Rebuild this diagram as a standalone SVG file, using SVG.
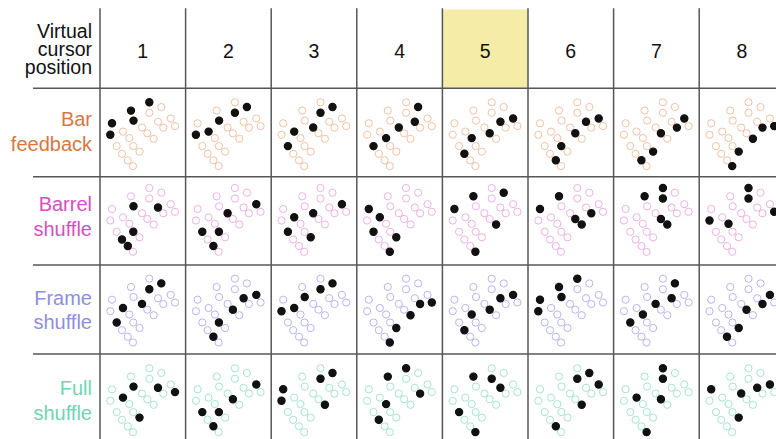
<svg xmlns="http://www.w3.org/2000/svg" width="776" height="439" viewBox="0 0 776 439">
<style>
text{font-family:"Liberation Sans",Arial,sans-serif;}
.hd{font-size:19.5px;fill:#111;text-anchor:end;}
.num{font-size:19.5px;fill:#111;text-anchor:middle;}
.lbl{font-size:20px;text-anchor:end;}
.grid line{stroke:#575757;stroke-width:1.5;}
.h{fill:none;stroke-width:1;}
.bar{stroke:#efc2a6;}
.barrel{stroke:#eab2e3;}
.frame{stroke:#b6b6ef;}
.full{stroke:#a6e4d0;}
.f{fill:#111;stroke:#111;stroke-width:1.2;}
</style>
<defs>
<circle id="p1" cx="49.3" cy="14" r="3.6"/>
<circle id="p2" cx="61.3" cy="18.7" r="3.6"/>
<circle id="p3" cx="31" cy="22.3" r="3.6"/>
<circle id="p4" cx="49.3" cy="24.5" r="3.6"/>
<circle id="p5" cx="33.5" cy="32.3" r="3.6"/>
<circle id="p6" cx="58" cy="33.5" r="3.6"/>
<circle id="p7" cx="70.7" cy="30.2" r="3.6"/>
<circle id="p8" cx="12" cy="35" r="3.6"/>
<circle id="p9" cx="42" cy="39.2" r="3.6"/>
<circle id="p10" cx="63.3" cy="39.3" r="3.6"/>
<circle id="p11" cx="75" cy="37.8" r="3.6"/>
<circle id="p12" cx="10.3" cy="46.5" r="3.6"/>
<circle id="p13" cx="23" cy="43.3" r="3.6"/>
<circle id="p14" cx="47.3" cy="45" r="3.6"/>
<circle id="p15" cx="53.7" cy="50.5" r="3.6"/>
<circle id="p16" cx="29.3" cy="49.8" r="3.6"/>
<circle id="p17" cx="16.7" cy="57.8" r="3.6"/>
<circle id="p18" cx="33.3" cy="57.8" r="3.6"/>
<circle id="p19" cx="39.5" cy="63.3" r="3.6"/>
<circle id="p20" cx="22" cy="65.5" r="3.6"/>
<circle id="p21" cx="27.8" cy="72" r="3.6"/>
<circle id="p22" cx="33" cy="77.8" r="3.6"/>
<g id="tpl">
<use href="#p1"/><use href="#p2"/><use href="#p3"/><use href="#p4"/><use href="#p5"/><use href="#p6"/><use href="#p7"/><use href="#p8"/><use href="#p9"/><use href="#p10"/><use href="#p11"/><use href="#p12"/><use href="#p13"/><use href="#p14"/><use href="#p15"/><use href="#p16"/><use href="#p17"/><use href="#p18"/><use href="#p19"/><use href="#p20"/><use href="#p21"/><use href="#p22"/>
</g>
</defs>
<rect width="776" height="439" fill="#ffffff"/>
<rect id="highlight" x="442.4" y="9.5" width="85.6" height="78.8" fill="#f4eca7"/>
<g id="header">
<text class="hd" x="92" y="37.5">Virtual</text>
<text class="hd" x="92" y="55.5">cursor</text>
<text class="hd" x="92" y="73.5">position</text>
<text class="num" x="142.8" y="57.5">1</text>
<text class="num" x="228.4" y="57.5">2</text>
<text class="num" x="314" y="57.5">3</text>
<text class="num" x="399.6" y="57.5">4</text>
<text class="num" x="485.2" y="57.5">5</text>
<text class="num" x="570.8" y="57.5">6</text>
<text class="num" x="656.4" y="57.5">7</text>
<text class="num" x="742" y="57.5">8</text>
</g>
<g id="labels">
<g id="label-bar" fill="#d8773f"><text class="lbl" x="92" y="126">Bar</text><text class="lbl" x="92" y="150.5">feedback</text></g>
<g id="label-barrel" fill="#d64fc2"><text class="lbl" x="92" y="211">Barrel</text><text class="lbl" x="92" y="235.5">shuffle</text></g>
<g id="label-frame" fill="#8e8ee2"><text class="lbl" x="92" y="305">Frame</text><text class="lbl" x="92" y="329">shuffle</text></g>
<g id="label-full" fill="#6fd5b2"><text class="lbl" x="92" y="395">Full</text><text class="lbl" x="92" y="419.5">shuffle</text></g>
</g>
<g id="grid" class="grid">
<line x1="33" y1="88.3" x2="776" y2="88.3"/>
<line x1="33" y1="176.7" x2="776" y2="176.7"/>
<line x1="33" y1="265" x2="776" y2="265"/>
<line x1="33" y1="354" x2="776" y2="354"/>
<line x1="100" y1="8.3" x2="100" y2="439"/>
<line x1="185.6" y1="8.3" x2="185.6" y2="439"/>
<line x1="271.2" y1="8.3" x2="271.2" y2="439"/>
<line x1="356.8" y1="8.3" x2="356.8" y2="439"/>
<line x1="442.4" y1="8.3" x2="442.4" y2="439"/>
<line x1="528" y1="8.3" x2="528" y2="439"/>
<line x1="613.6" y1="8.3" x2="613.6" y2="439"/>
<line x1="699.2" y1="8.3" x2="699.2" y2="439"/>
</g>
<g id="row-bar">
<g id="bar-1" transform="translate(100,88.3)"><use href="#tpl" class="h bar"/><use href="#p1" class="f"/><use href="#p3" class="f"/><use href="#p5" class="f"/><use href="#p8" class="f"/><use href="#p12" class="f"/></g>
<g id="bar-2" transform="translate(185.6,88.3)"><use href="#tpl" class="h bar"/><use href="#p2" class="f"/><use href="#p4" class="f"/><use href="#p5" class="f"/><use href="#p12" class="f"/><use href="#p13" class="f"/></g>
<g id="bar-3" transform="translate(271.2,88.3)"><use href="#tpl" class="h bar"/><use href="#p2" class="f"/><use href="#p4" class="f"/><use href="#p9" class="f"/><use href="#p13" class="f"/><use href="#p17" class="f"/></g>
<g id="bar-4" transform="translate(356.8,88.3)"><use href="#tpl" class="h bar"/><use href="#p2" class="f"/><use href="#p6" class="f"/><use href="#p9" class="f"/><use href="#p16" class="f"/><use href="#p17" class="f"/></g>
<g id="bar-5" transform="translate(442.4,88.3)"><use href="#tpl" class="h bar"/><use href="#p6" class="f"/><use href="#p7" class="f"/><use href="#p14" class="f"/><use href="#p16" class="f"/><use href="#p20" class="f"/></g>
<g id="bar-6" transform="translate(528,88.3)"><use href="#tpl" class="h bar"/><use href="#p6" class="f"/><use href="#p7" class="f"/><use href="#p14" class="f"/><use href="#p18" class="f"/><use href="#p21" class="f"/></g>
<g id="bar-7" transform="translate(613.6,88.3)"><use href="#tpl" class="h bar"/><use href="#p7" class="f"/><use href="#p10" class="f"/><use href="#p14" class="f"/><use href="#p19" class="f"/><use href="#p21" class="f"/></g>
<g id="bar-8" transform="translate(699.2,88.3)"><use href="#tpl" class="h bar"/><use href="#p10" class="f"/><use href="#p11" class="f"/><use href="#p15" class="f"/><use href="#p19" class="f"/><use href="#p22" class="f"/></g>
</g>
<g id="row-barrel">
<g id="barrel-1" transform="translate(100,174)"><use href="#tpl" class="h barrel"/><use href="#p5" class="f"/><use href="#p6" class="f"/><use href="#p18" class="f"/><use href="#p20" class="f"/><use href="#p21" class="f"/></g>
<g id="barrel-2" transform="translate(185.6,174)"><use href="#tpl" class="h barrel"/><use href="#p7" class="f"/><use href="#p9" class="f"/><use href="#p17" class="f"/><use href="#p18" class="f"/><use href="#p21" class="f"/></g>
<g id="barrel-3" transform="translate(271.2,174)"><use href="#tpl" class="h barrel"/><use href="#p7" class="f"/><use href="#p9" class="f"/><use href="#p13" class="f"/><use href="#p17" class="f"/><use href="#p19" class="f"/></g>
<g id="barrel-4" transform="translate(356.8,174)"><use href="#tpl" class="h barrel"/><use href="#p8" class="f"/><use href="#p13" class="f"/><use href="#p17" class="f"/><use href="#p19" class="f"/><use href="#p22" class="f"/></g>
<g id="barrel-5" transform="translate(442.4,174)"><use href="#tpl" class="h barrel"/><use href="#p2" class="f"/><use href="#p3" class="f"/><use href="#p8" class="f"/><use href="#p15" class="f"/><use href="#p22" class="f"/></g>
<g id="barrel-6" transform="translate(528,174)"><use href="#tpl" class="h barrel"/><use href="#p3" class="f"/><use href="#p8" class="f"/><use href="#p10" class="f"/><use href="#p14" class="f"/><use href="#p15" class="f"/></g>
<g id="barrel-7" transform="translate(613.6,174)"><use href="#tpl" class="h barrel"/><use href="#p1" class="f"/><use href="#p3" class="f"/><use href="#p4" class="f"/><use href="#p14" class="f"/><use href="#p15" class="f"/></g>
<g id="barrel-8" transform="translate(699.2,174)"><use href="#tpl" class="h barrel"/><use href="#p1" class="f"/><use href="#p4" class="f"/><use href="#p11" class="f"/><use href="#p12" class="f"/><use href="#p16" class="f"/></g>
</g>
<g id="row-frame">
<g id="frame-1" transform="translate(100,264.7)"><use href="#tpl" class="h frame"/><use href="#p2" class="f"/><use href="#p4" class="f"/><use href="#p9" class="f"/><use href="#p13" class="f"/><use href="#p17" class="f"/></g>
<g id="frame-2" transform="translate(185.6,264.7)"><use href="#tpl" class="h frame"/><use href="#p6" class="f"/><use href="#p7" class="f"/><use href="#p14" class="f"/><use href="#p18" class="f"/><use href="#p21" class="f"/></g>
<g id="frame-3" transform="translate(271.2,264.7)"><use href="#tpl" class="h frame"/><use href="#p2" class="f"/><use href="#p4" class="f"/><use href="#p5" class="f"/><use href="#p12" class="f"/><use href="#p13" class="f"/></g>
<g id="frame-4" transform="translate(356.8,264.7)"><use href="#tpl" class="h frame"/><use href="#p10" class="f"/><use href="#p11" class="f"/><use href="#p15" class="f"/><use href="#p19" class="f"/><use href="#p22" class="f"/></g>
<g id="frame-5" transform="translate(442.4,264.7)"><use href="#tpl" class="h frame"/><use href="#p6" class="f"/><use href="#p7" class="f"/><use href="#p14" class="f"/><use href="#p16" class="f"/><use href="#p20" class="f"/></g>
<g id="frame-6" transform="translate(528,264.7)"><use href="#tpl" class="h frame"/><use href="#p1" class="f"/><use href="#p3" class="f"/><use href="#p5" class="f"/><use href="#p8" class="f"/><use href="#p12" class="f"/></g>
<g id="frame-7" transform="translate(613.6,264.7)"><use href="#tpl" class="h frame"/><use href="#p2" class="f"/><use href="#p6" class="f"/><use href="#p9" class="f"/><use href="#p16" class="f"/><use href="#p17" class="f"/></g>
<g id="frame-8" transform="translate(699.2,264.7)"><use href="#tpl" class="h frame"/><use href="#p7" class="f"/><use href="#p10" class="f"/><use href="#p14" class="f"/><use href="#p19" class="f"/><use href="#p21" class="f"/></g>
</g>
<g id="row-full">
<g id="full-1" transform="translate(100,354.3)"><use href="#tpl" class="h full"/><use href="#p5" class="f"/><use href="#p6" class="f"/><use href="#p11" class="f"/><use href="#p13" class="f"/><use href="#p19" class="f"/></g>
<g id="full-2" transform="translate(185.6,354.3)"><use href="#tpl" class="h full"/><use href="#p7" class="f"/><use href="#p14" class="f"/><use href="#p17" class="f"/><use href="#p18" class="f"/><use href="#p21" class="f"/></g>
<g id="full-3" transform="translate(271.2,354.3)"><use href="#tpl" class="h full"/><use href="#p2" class="f"/><use href="#p4" class="f"/><use href="#p8" class="f"/><use href="#p12" class="f"/><use href="#p15" class="f"/></g>
<g id="full-4" transform="translate(356.8,354.3)"><use href="#tpl" class="h full"/><use href="#p1" class="f"/><use href="#p3" class="f"/><use href="#p10" class="f"/><use href="#p16" class="f"/><use href="#p20" class="f"/></g>
<g id="full-5" transform="translate(442.4,354.3)"><use href="#tpl" class="h full"/><use href="#p3" class="f"/><use href="#p4" class="f"/><use href="#p6" class="f"/><use href="#p17" class="f"/><use href="#p22" class="f"/></g>
<g id="full-6" transform="translate(528,354.3)"><use href="#tpl" class="h full"/><use href="#p2" class="f"/><use href="#p4" class="f"/><use href="#p7" class="f"/><use href="#p15" class="f"/><use href="#p21" class="f"/></g>
<g id="full-7" transform="translate(613.6,354.3)"><use href="#tpl" class="h full"/><use href="#p1" class="f"/><use href="#p4" class="f"/><use href="#p13" class="f"/><use href="#p14" class="f"/><use href="#p22" class="f"/></g>
<g id="full-8" transform="translate(699.2,354.3)"><use href="#tpl" class="h full"/><use href="#p6" class="f"/><use href="#p7" class="f"/><use href="#p8" class="f"/><use href="#p9" class="f"/><use href="#p19" class="f"/></g>
</g>
</svg>
